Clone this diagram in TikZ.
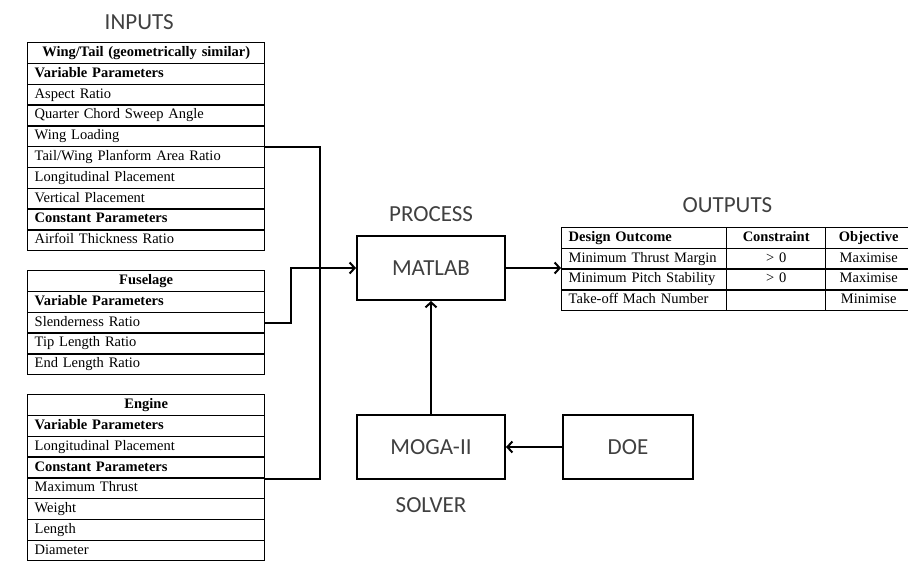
\documentclass[tikz,border=0pt]{standalone}
\usepackage{fontspec}
\setmainfont{Liberation Serif}
\newfontfamily\capfont{Carlito}
\usetikzlibrary{positioning,arrows.meta}

\begin{document}
\begin{tikzpicture}[x=1pt,y=-1pt]
  \tikzset{
    inrow/.style={
      draw, line width=1.4pt,
      anchor=north west,
      inner xsep=7pt, inner ysep=0pt,
      text width=223pt, align=left,
      minimum height=20.8pt,
      text height=10pt, text depth=3pt,
      font=\fontsize{14.5}{17}\selectfont,
    },
    inhead/.style={inrow, align=center, font=\fontsize{14.5}{17}\selectfont\bfseries},
    outcell/.style={inrow, text width=#1},
    block/.style={
      draw, line width=2pt,
      minimum width=148pt, minimum height=64pt,
      text=black!75,
      font=\capfont\fontsize{23}{28}\selectfont,
    },
    caption/.style={
      inner sep=0pt, text=black!75,
      font=\capfont\fontsize{23}{28}\selectfont,
    },
    link/.style={line width=2pt, -{Straight Barb[length=5pt,width=11pt]}},
    wire/.style={line width=2pt},
  }
  \useasboundingbox (0,0) rectangle (908,561);

  % inputs
  \node[inhead] (wing0) at (27,42) {Wing/Tail (geometrically similar)};
  \foreach \txt [count=\i] in {\textbf{Variable Parameters}, Aspect Ratio,
      Quarter Chord Sweep Angle, Wing Loading, Tail/Wing Planform Area Ratio,
      Longitudinal Placement, Vertical Placement, \textbf{Constant Parameters},
      Airfoil Thickness Ratio}
    \node[inrow] (wing\i) at (27,{42+20.8*\i}) {\txt};

  \node[inhead] (fuse0) at (27,270) {Fuselage};
  \foreach \txt [count=\i] in {\textbf{Variable Parameters}, Slenderness Ratio,
      Tip Length Ratio, End Length Ratio}
    \node[inrow] (fuse\i) at (27,{270+20.8*\i}) {\txt};

  \node[inhead] (eng0) at (27,394) {Engine};
  \foreach \txt [count=\i] in {\textbf{Variable Parameters}, Longitudinal Placement,
      \textbf{Constant Parameters}, Maximum Thrust, Weight, Length, Diameter}
    \node[inrow] (eng\i) at (27,{394+20.8*\i}) {\txt};

  \node[caption, above=12pt of wing0, xshift=-7pt] {INPUTS};

  % process and solver
  \node[block] (matlab) at (431,268) {MATLAB};
  \node[block, below=113pt of matlab] (moga) {MOGA-II};
  \node[block, minimum width=130pt, right=56pt of moga] (doe) {DOE};
  \node[caption, above=13pt of matlab] {PROCESS};
  \node[caption, below=17pt of moga] {SOLVER};

  % outputs
  \foreach \a/\b/\c [count=\j from 0] in {
      \textbf{Design Outcome}/\textbf{Constraint}/\textbf{Objective},
      Minimum Thrust Margin/{> 0}/Maximise,
      Minimum Pitch Stability/{> 0}/Maximise,
      Take-off Mach Number//Minimise}
  {
    \node[outcell=151pt] (out\j a) at (561,{227+20.7*\j}) {\a};
    \node[outcell=85pt, align=center] (out\j b) at (726,{227+20.7*\j}) {\b};
    \node[outcell=72pt, align=center] (out\j c) at (825,{227+20.7*\j}) {\c};
  }
  \node[caption, above=14pt of out0a.north east] {OUTPUTS};

  % connectors
  \coordinate (bus) at (320,300);
  \draw[wire] (wing4.south east) -| (bus) |- (eng3.south east);
  \draw[link] (fuse2.east) -- ++(26,0) |- (matlab.west);
  \draw[link] (matlab.east) -- (matlab.east -| out1a.west);
  \draw[link] (moga) -- (matlab);
  \draw[link] (doe) -- (moga);
\end{tikzpicture}
\end{document}
